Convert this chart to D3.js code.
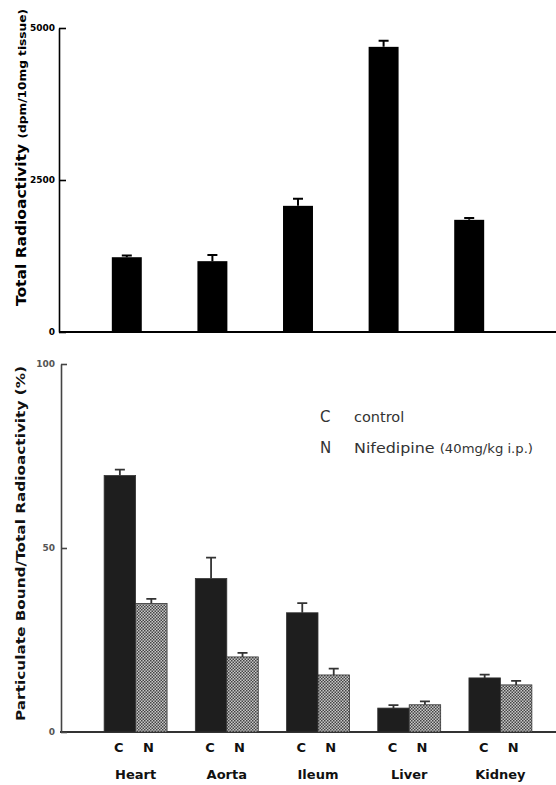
<!DOCTYPE html>
<head>
<meta charset="utf-8">
<script src="https://cdn.jsdelivr.net/npm/d3@7"></script>
<style>
    body { margin: 0; background: #fff; }
    svg { display: block; font-family: "DejaVu Sans", sans-serif; }
    .axis path, .axis line { stroke: #000; stroke-width: 1.6px; }
    .axis text { font-weight: bold; font-size: 9px; font-family: "DejaVu Sans", sans-serif; }
    .low .axis path, .low .axis line { stroke: #444; }
    .low .axis text { fill: #555; }
</style>
</head>
<body>
<div id="chart"></div>
<script>
// top panel: total radioactivity (dpm/10mg tissue)
var organs = ["Heart", "Aorta", "Ileum", "Liver", "Kidney"];
var totalMean = [1230, 1165, 2075, 4690, 1845];
var totalErr = [30, 100, 115, 100, 30];
var topTicks = [0, 2500, 5000];

// bottom panel: particulate bound / total (%)
var groups = ["C", "N"];
var controlMean = [69.7, 41.7, 32.4, 6.5, 14.7];
var controlErr = [1.6, 5.7, 2.6, 0.8, 0.9];
var nifMean = [34.9, 20.4, 15.5, 7.4, 12.8];
var nifErr = [1.3, 1.1, 1.7, 0.9, 1.1];
var lowTicks = [0, 50, 100];

var width = 556, height = 785;

var svg = d3.select("#chart").append("svg")
    .attr("width", width)
    .attr("height", height);

// checkered fill for nifedipine bars
var defs = svg.append("defs");
var pat = defs.append("pattern")
    .attr("id", "check")
    .attr("width", 3).attr("height", 3)
    .attr("patternUnits", "userSpaceOnUse");
pat.append("rect").attr("width", 3).attr("height", 3).attr("fill", "#c8c8c8");
pat.append("rect").attr("width", 1.5).attr("height", 1.5).attr("fill", "#444");
pat.append("rect").attr("x", 1.5).attr("y", 1.5).attr("width", 1.5).attr("height", 1.5).attr("fill", "#444");

/********************* top panel **********************************/
var upper = svg.append("g");

var x1 = d3.scaleBand()
    .domain(organs)
    .range([84, 512])
    .paddingInner(0.65)
    .paddingOuter(0.325);

var y1 = d3.scaleLinear()
    .domain([0, 5000])
    .range([332, 28]);

upper.append("line")
    .attr("x1", 59).attr("x2", width)
    .attr("y1", y1(0)).attr("y2", y1(0))
    .attr("stroke", "#000").attr("stroke-width", 1.8);

upper.append("g")
    .attr("class", "axis")
    .attr("transform", "translate(59,0)")
    .call(d3.axisLeft(y1).tickValues(topTicks).tickSizeInner(-7).tickSizeOuter(0).tickPadding(4).tickFormat(d3.format("d")));

var topData = organs.map(function(o, i) { return {organ: o, v: totalMean[i], e: totalErr[i]}; });

upper.selectAll(".err")
    .data(topData)
  .enter().append("path")
    .attr("class", "err")
    .attr("fill", "none").attr("stroke", "#000").attr("stroke-width", 2)
    .attr("d", function(d) {
        var cx = x1(d.organ) + x1.bandwidth() / 2, yt = y1(d.v + d.e);
        return "M" + cx + "," + y1(d.v) + "V" + yt + "M" + (cx - 5) + "," + yt + "H" + (cx + 5);
    });

upper.selectAll(".bar")
    .data(topData)
  .enter().append("rect")
    .attr("class", "bar")
    .attr("x", function(d) { return x1(d.organ); })
    .attr("width", x1.bandwidth())
    .attr("y", function(d) { return y1(d.v); })
    .attr("height", function(d) { return y1(0) - y1(d.v); })
    .attr("fill", "#000");

upper.append("text")
    .attr("transform", "translate(26,306) rotate(-90)")
    .attr("font-weight", "bold")
    .attr("fill", "#000")
    .attr("textLength", 297).attr("lengthAdjust", "spacingAndGlyphs")
    .call(function(t) {
        t.append("tspan").attr("font-size", 14).text("Total Radioactivity ");
        t.append("tspan").attr("font-size", 11).text("(dpm/10mg tissue)");
    });

/********************* bottom panel **********************************/
var low = svg.append("g").attr("class", "low");

var x2 = d3.scaleBand()
    .domain(organs)
    .range([90, 546])
    .paddingInner(0.31)
    .paddingOuter(0.155);

var xs = d3.scaleBand()
    .domain(groups)
    .range([0, x2.bandwidth()]);

var y2 = d3.scaleLinear()
    .domain([0, 100])
    .range([732, 364]);

low.append("line")
    .attr("x1", 60).attr("x2", width)
    .attr("y1", y2(0)).attr("y2", y2(0))
    .attr("stroke", "#333").attr("stroke-width", 1.8);

low.append("g")
    .attr("class", "axis")
    .attr("transform", "translate(61,0)")
    .call(d3.axisLeft(y2).tickValues(lowTicks).tickSizeInner(-6).tickSizeOuter(0).tickPadding(6));

var lowData = [];
organs.forEach(function(o, i) {
    lowData.push({organ: o, g: "C", v: controlMean[i], e: controlErr[i]});
    lowData.push({organ: o, g: "N", v: nifMean[i], e: nifErr[i]});
});

function bx(d) { return x2(d.organ) + xs(d.g); }

low.selectAll(".err")
    .data(lowData)
  .enter().append("path")
    .attr("class", "err")
    .attr("fill", "none").attr("stroke", "#333").attr("stroke-width", 1.8)
    .attr("d", function(d) {
        var cx = bx(d) + xs.bandwidth() / 2, yt = y2(d.v + d.e);
        return "M" + cx + "," + y2(d.v) + "V" + yt + "M" + (cx - 5) + "," + yt + "H" + (cx + 5);
    });

low.selectAll(".bar")
    .data(lowData)
  .enter().append("rect")
    .attr("class", "bar")
    .attr("x", bx)
    .attr("width", xs.bandwidth())
    .attr("y", function(d) { return y2(d.v); })
    .attr("height", function(d) { return y2(0) - y2(d.v); })
    .attr("fill", function(d) { return d.g === "C" ? "#1e1e1e" : "url(#check)"; })
    .attr("stroke", "#333").attr("stroke-width", 0.8);

// C / N labels under the bars
low.selectAll(".glab")
    .data(lowData)
  .enter().append("text")
    .attr("class", "glab")
    .attr("x", function(d) { return bx(d) + xs.bandwidth() / 2 - (d.g === "C" ? 1 : 3); })
    .attr("y", 752)
    .attr("text-anchor", "middle")
    .attr("font-size", 13).attr("font-weight", "bold").attr("fill", "#111")
    .text(function(d) { return d.g; });

low.selectAll(".olab")
    .data(organs)
  .enter().append("text")
    .attr("class", "olab")
    .attr("x", function(d) { return x2(d) + x2.bandwidth() / 2; })
    .attr("y", 779)
    .attr("text-anchor", "middle")
    .attr("font-size", 13).attr("font-weight", "bold").attr("fill", "#111")
    .text(function(d) { return d; });

low.append("text")
    .attr("transform", "translate(25,721) rotate(-90)")
    .attr("font-weight", "bold").attr("font-size", 13).attr("fill", "#111")
    .attr("textLength", 355).attr("lengthAdjust", "spacingAndGlyphs")
    .text("Particulate Bound/Total Radioactivity (%)");

// legend
var legend = low.append("g").attr("transform", "translate(320,0)");
legend.append("text").attr("x", 0).attr("y", 422).attr("font-size", 15).attr("fill", "#333").text("C");
legend.append("text").attr("x", 34).attr("y", 422).attr("font-size", 14.5).attr("fill", "#333").text("control");
legend.append("text").attr("x", 0).attr("y", 453).attr("font-size", 15).attr("fill", "#333").text("N");
legend.append("text").attr("x", 34).attr("y", 453).attr("fill", "#333")
    .attr("textLength", 179).attr("lengthAdjust", "spacingAndGlyphs")
    .call(function(t) {
        t.append("tspan").attr("font-size", 14.5).text("Nifedipine ");
        t.append("tspan").attr("font-size", 12).text("(40mg/kg i.p.)");
    });
</script>
</body>
</html>
